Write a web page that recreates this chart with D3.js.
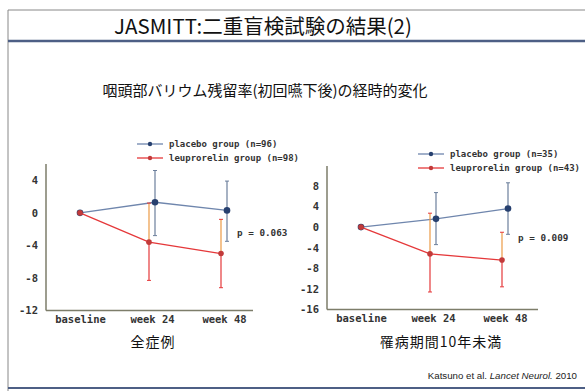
<!DOCTYPE html>
<html>
<head>
<meta charset="utf-8">
<script src="https://cdn.jsdelivr.net/npm/d3@7"></script>
<style>
  body { margin: 0; background: #fff; }
  svg { display: block; }
</style>
</head>
<body>
<div id="chart-area"></div>
<script>
// data
var categories = ["baseline", "week 24", "week 48"];

var allPlacebo = [0, 1.3, 0.3];
var allPlaceboHi = [0, 5.2, 3.9];
var allPlaceboLo = [0, -2.8, -3.5];
var allLeup = [0, -3.6, -5.0];
var allLeupHi = [0, 1.2, -0.8];
var allLeupLo = [0, -8.3, -9.2];
var allTicks = [4, 0, -4, -8, -12];

var subPlacebo = [0, 1.6, 3.6];
var subPlaceboHi = [0, 6.7, 8.6];
var subPlaceboLo = [0, -3.4, -1.4];
var subLeup = [0, -5.2, -6.4];
var subLeupHi = [0, 2.7, -1.0];
var subLeupLo = [0, -12.6, -11.6];
var subTicks = [8, 4, 0, -4, -8, -12, -16];

var W = 585, H = 391;
var blue = "#27406f", blueLine = "#6f86ad", red = "#e5383a", orange = "#ec9a45";
var monoFont = "'DejaVu Sans Mono', 'Liberation Mono', monospace";

var svg = d3.select("#chart-area")
    .append("svg")
    .attr("width", W)
    .attr("height", H);

// slide frame
svg.append("line").attr("x1", 8).attr("x2", W).attr("y1", 10).attr("y2", 10)
    .attr("stroke", "#888").attr("stroke-width", 1);
svg.append("line").attr("x1", 8).attr("x2", 8).attr("y1", 10).attr("y2", H)
    .attr("stroke", "#888").attr("stroke-width", 1);
svg.append("line").attr("x1", 8).attr("x2", W).attr("y1", 41).attr("y2", 41)
    .attr("stroke", "#4d5f85").attr("stroke-width", 2.5);
svg.append("line").attr("x1", 8).attr("x2", W).attr("y1", 388).attr("y2", 388)
    .attr("stroke", "#4d5f85").attr("stroke-width", 2);

svg.append("text")
    .attr("x", 263).attr("y", 34)
    .attr("text-anchor", "middle")
    .style("font-family", "'Noto Sans CJK JP', sans-serif")
    .style("font-size", "20.5px")
    .style("fill", "#111")
    .text("JASMITT:二重盲検試験の結果(2)");

svg.append("text")
    .attr("x", 265).attr("y", 96)
    .attr("text-anchor", "middle")
    .style("font-family", "'Noto Sans CJK JP', sans-serif")
    .style("font-size", "15px")
    .style("fill", "#111")
    .text("咽頭部バリウム残留率(初回嚥下後)の経時的変化");

svg.append("text")
    .attr("x", 577).attr("y", 379)
    .attr("text-anchor", "end")
    .style("font-family", "'Liberation Sans', Arial, sans-serif")
    .style("font-size", "9.7px")
    .style("fill", "#222")
    .html("Katsuno et al. <tspan font-style='italic'>Lancet Neurol.</tspan> 2010");

function drawPanel(cfg)
{
    var g = svg.append("g");

    var x = d3.scalePoint()
        .domain(categories)
        .range(cfg.xRange);

    var y = d3.scaleLinear()
        .domain(cfg.yDomain)
        .range(cfg.yRange);

    // axes
    var yAxis = d3.axisLeft(y).tickValues(cfg.ticks).tickSize(0).tickPadding(8)
        .tickFormat(function(d){ return d < 0 ? "-" + Math.abs(d) : d; });
    var ya = g.append("g")
        .attr("transform", "translate(" + cfg.axisX + ",0)")
        .call(yAxis);
    ya.select(".domain").attr("d", "M0," + cfg.axisTop + "V" + y(cfg.yDomain[0]))
        .attr("stroke", "#7d7d6a").attr("stroke-width", 1.5);

    var xAxis = d3.axisBottom(x).tickSize(0).tickPadding(5);
    var xa = g.append("g")
        .attr("transform", "translate(0," + y(cfg.yDomain[0]) + ")")
        .call(xAxis);
    xa.select(".domain").attr("d", "M" + cfg.axisX + ",0H" + cfg.axisRight)
        .attr("stroke", "#7d7d6a").attr("stroke-width", 1.5);

    g.selectAll(".tick text")
        .style("font-family", monoFont)
        .style("font-weight", "bold")
        .style("font-size", "10.5px")
        .style("fill", "#333");

    var series = [
        { name: "placebo", vals: cfg.placebo, hi: cfg.placeboHi, lo: cfg.placeboLo,
          dx: 3, line: blueLine, dot: blue, bar: "#6c7f9c", r: 3.3 },
        { name: "leup", vals: cfg.leup, hi: cfg.leupHi, lo: cfg.leupLo,
          dx: -3, line: red, dot: "#c23a3a", bar: null, r: 2.8 }
    ];

    series.forEach(function(s) {
        var pts = s.vals.map(function(v, i) {
            return { c: categories[i], v: v, hi: s.hi[i], lo: s.lo[i], dx: i === 0 ? 0 : s.dx };
        });

        // error bars
        pts.slice(1).forEach(function(p) {
            var px = x(p.c) + p.dx;
            var upCol = s.bar ? s.bar : orange;
            var dnCol = s.bar ? s.bar : red;
            g.append("line").attr("x1", px).attr("x2", px)
                .attr("y1", y(p.hi)).attr("y2", y(p.v))
                .attr("stroke", upCol).attr("stroke-width", 1.2);
            g.append("line").attr("x1", px).attr("x2", px)
                .attr("y1", y(p.v)).attr("y2", y(p.lo))
                .attr("stroke", dnCol).attr("stroke-width", 1.2);
            [p.hi, p.lo].forEach(function(e) {
                g.append("line").attr("x1", px - 2).attr("x2", px + 2)
                    .attr("y1", y(e)).attr("y2", y(e))
                    .attr("stroke", s.bar ? s.bar : red).attr("stroke-width", 1);
            });
        });

        var line = d3.line()
            .x(function(d){ return x(d.c) + d.dx; })
            .y(function(d){ return y(d.v); });

        g.append("path")
            .datum(pts)
            .attr("d", line)
            .attr("fill", "none")
            .attr("stroke", s.line)
            .attr("stroke-width", 1.3);

        g.selectAll(".dot-" + s.name)
            .data(pts)
            .enter()
            .append("circle")
            .attr("cx", function(d){ return x(d.c) + d.dx; })
            .attr("cy", function(d){ return y(d.v); })
            .attr("r", s.r)
            .attr("fill", s.dot);
    });

    // p value
    g.append("text")
        .attr("x", cfg.pX).attr("y", cfg.pY)
        .style("font-family", monoFont)
        .style("font-weight", "bold")
        .style("font-size", "9.3px")
        .style("fill", "#333")
        .text(cfg.pText);

    // legend
    var legend = [
        { label: cfg.placeboLabel, line: blueLine, dot: blue },
        { label: cfg.leupLabel, line: red, dot: "#c23a3a" }
    ];
    legend.forEach(function(l, i) {
        var ly = cfg.legendY + i * cfg.legendGap;
        g.append("line")
            .attr("x1", cfg.legendX).attr("x2", cfg.legendX + 26)
            .attr("y1", ly).attr("y2", ly)
            .attr("stroke", l.line).attr("stroke-width", 1.3);
        g.append("circle")
            .attr("cx", cfg.legendX + 13).attr("cy", ly).attr("r", 2.2)
            .attr("fill", l.dot);
        g.append("text")
            .attr("x", cfg.legendX + 32).attr("y", ly + 3)
            .style("font-family", monoFont)
            .style("font-weight", "bold")
            .style("font-size", "9px")
            .style("fill", "#333")
            .text(l.label);
    });

    // caption
    g.append("text")
        .attr("x", cfg.captionX).attr("y", 347)
        .attr("text-anchor", "middle")
        .style("font-family", "'Noto Sans CJK JP', sans-serif")
        .style("font-size", "14px")
        .style("letter-spacing", "1px")
        .style("fill", "#111")
        .text(cfg.caption);
}

drawPanel({
    xRange: [80, 224], yDomain: [-12, 6], yRange: [310.5, 164],
    ticks: allTicks, axisX: 46, axisTop: 164, axisRight: 253,
    placebo: allPlacebo, placeboHi: allPlaceboHi, placeboLo: allPlaceboLo,
    leup: allLeup, leupHi: allLeupHi, leupLo: allLeupLo,
    pText: "p = 0.063", pX: 237, pY: 236,
    placeboLabel: "placebo group (n=96)", leupLabel: "leuprorelin group (n=98)",
    legendX: 137, legendY: 144, legendGap: 14,
    caption: "全症例", captionX: 153
});

drawPanel({
    xRange: [361, 505], yDomain: [-16, 12], yRange: [309.5, 165.3],
    ticks: subTicks, axisX: 327, axisTop: 166, axisRight: 538,
    placebo: subPlacebo, placeboHi: subPlaceboHi, placeboLo: subPlaceboLo,
    leup: subLeup, leupHi: subLeupHi, leupLo: subLeupLo,
    pText: "p = 0.009", pX: 518, pY: 241,
    placeboLabel: "placebo group (n=35)", leupLabel: "leuprorelin group (n=43)",
    legendX: 418, legendY: 154, legendGap: 14,
    caption: "罹病期間10年未満", captionX: 441
});
</script>
</body>
</html>
